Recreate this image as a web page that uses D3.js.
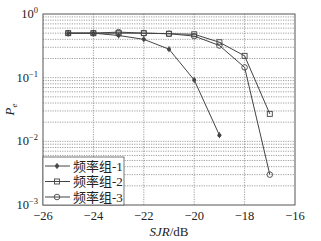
<!DOCTYPE html>
<html>
<head>
<meta charset="utf-8">
<script src="https://cdn.jsdelivr.net/npm/d3@7"></script>
<style>
  body { margin: 0; background: #fff; }
  text { font-family: "Liberation Serif", "Noto Sans CJK SC", serif; fill: #222; }
</style>
</head>
<body>
<svg id="chart" width="321" height="241"></svg>
<script>
// data
const sjr = [-25, -24, -23, -22, -21, -20, -19, -18, -17];
const group1 = [0.50, 0.50, 0.46, 0.40, 0.28, 0.092, 0.0125];
const group2 = [0.50, 0.50, 0.50, 0.50, 0.49, 0.48, 0.36, 0.22, 0.027];
const group3 = [0.50, 0.50, 0.52, 0.50, 0.49, 0.45, 0.32, 0.145, 0.003];
const seriesNames = ["频率组-1", "频率组-2", "频率组-3"];
const xTicks = [-26, -24, -22, -20, -18, -16];
const yExps = [0, -1, -2, -3];

const svg = d3.select("#chart");
const margin = { top: 14, right: 26, bottom: 36, left: 43 };
const width = 321 - margin.left - margin.right;
const height = 241 - margin.top - margin.bottom;

const x = d3.scaleLinear().domain([-26, -16]).range([0, width]);
const y = d3.scaleLog().domain([1e-3, 1]).range([height, 0]);

const g = svg.append("g").attr("transform", `translate(${margin.left},${margin.top})`);

// grid: vertical at ticks, horizontal at every log step
const minor = [];
for (let e = -3; e < 0; e++) for (let k = 1; k <= 9; k++) minor.push(k * Math.pow(10, e));
g.append("g").selectAll("line").data(minor.slice(1)).join("line")
    .attr("x1", 0).attr("x2", width)
    .attr("y1", d => y(d)).attr("y2", d => y(d))
    .attr("stroke", "#888").attr("stroke-width", 0.8).attr("stroke-dasharray", "1.2,1.2");
g.append("g").selectAll("line").data(xTicks.slice(1, -1)).join("line")
    .attr("x1", d => x(d)).attr("x2", d => x(d))
    .attr("y1", 0).attr("y2", height)
    .attr("stroke", "#888").attr("stroke-width", 0.8).attr("stroke-dasharray", "1.2,1.2");

g.append("rect").attr("width", width).attr("height", height)
    .attr("fill", "none").attr("stroke", "#555").attr("stroke-width", 1);

// ticks
g.selectAll(".xt").data(xTicks).join("text")
    .attr("x", d => x(d)).attr("y", height + 15)
    .attr("text-anchor", "middle").attr("font-size", 12.5)
    .text(d => d < 0 ? "\u2212" + Math.abs(d) : d);

const yt = g.selectAll(".yt").data(yExps).join("text")
    .attr("x", -5).attr("y", d => y(Math.pow(10, d)) + 4)
    .attr("text-anchor", "end").attr("font-size", 12.5);
yt.append("tspan").text("10");
yt.append("tspan").attr("dy", -5).attr("font-size", 8.5)
    .text(d => d < 0 ? "\u2212" + Math.abs(d) : d);

// axis labels
const xl = svg.append("text").attr("x", margin.left + width / 2).attr("y", 236)
    .attr("text-anchor", "middle").attr("font-size", 13);
xl.append("tspan").attr("font-style", "italic").text("SJR");
xl.append("tspan").text("/dB");

const yl = svg.append("text").attr("transform", `translate(14,${margin.top + height / 2}) rotate(-90)`)
    .attr("text-anchor", "middle").attr("font-size", 13).attr("font-style", "italic");
yl.append("tspan").text("P");
yl.append("tspan").attr("font-size", 9).attr("dy", 3).text("e");

// series
const series = [group1, group2, group3].map((vals, i) => ({
    name: seriesNames[i], i,
    points: vals.map((v, j) => [sjr[j], v])
}));
const line = d3.line().x(d => x(d[0])).y(d => y(d[1]));
const color = "#444";

function marker(sel, i, cx, cy) {
    if (i === 0) {
        sel.append("circle").attr("cx", cx).attr("cy", cy).attr("r", 2).attr("fill", color);
        sel.append("line").attr("x1", cx).attr("x2", cx).attr("y1", cy - 3).attr("y2", cy + 3)
            .attr("stroke", color).attr("stroke-width", 1);
    } else if (i === 1) {
        sel.append("rect").attr("x", cx - 2.5).attr("y", cy - 2.5).attr("width", 5).attr("height", 5)
            .attr("fill", "none").attr("stroke", color).attr("stroke-width", 0.9);
    } else {
        sel.append("circle").attr("cx", cx).attr("cy", cy).attr("r", 2.8)
            .attr("fill", "none").attr("stroke", color).attr("stroke-width", 0.9);
    }
}

series.forEach(s => {
    g.append("path").datum(s.points).attr("d", line)
        .attr("fill", "none").attr("stroke", color).attr("stroke-width", 1);
    const mg = g.append("g");
    s.points.forEach(p => marker(mg, s.i, x(p[0]), y(p[1])));
});

// legend
const lg = g.append("g").attr("transform", `translate(0,${height - 48})`);
lg.append("rect").attr("x", 0).attr("y", 0).attr("width", 81).attr("height", 48)
    .attr("fill", "#fff").attr("stroke", "#555").attr("stroke-width", 0.8);
series.forEach((s, i) => {
    const cy = 9 + i * 15.5;
    lg.append("line").attr("x1", 2).attr("x2", 27).attr("y1", cy).attr("y2", cy)
        .attr("stroke", color).attr("stroke-width", 1);
    marker(lg, i, 14, cy);
    lg.append("text").attr("x", 30).attr("y", cy + 4.5).attr("font-size", 13)
        .text(s.name);
});
</script>
</body>
</html>
